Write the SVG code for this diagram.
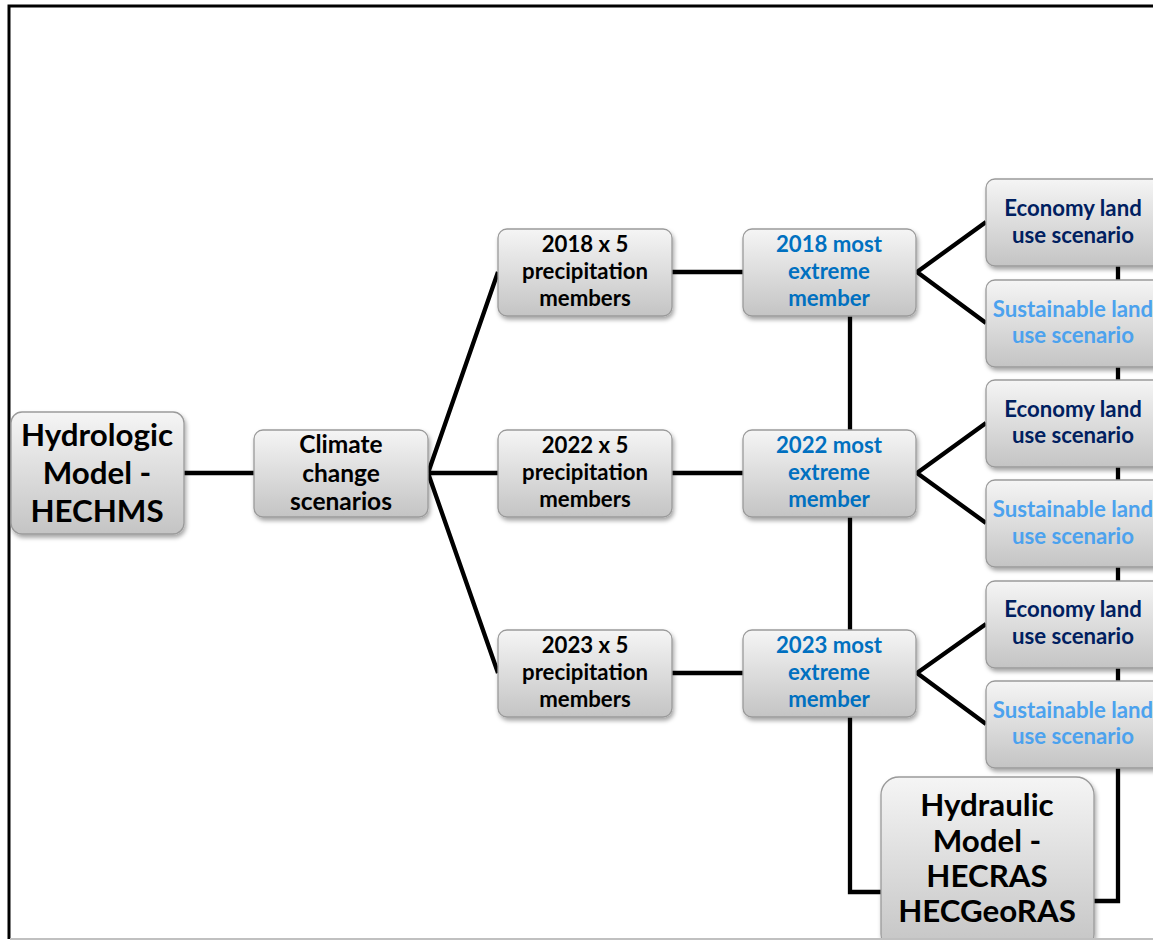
<svg xmlns="http://www.w3.org/2000/svg" width="1153" height="940" viewBox="0 0 1153 940">
<defs>
<linearGradient id="g" x1="0" y1="0" x2="0" y2="1">
<stop offset="0" stop-color="#f5f5f5"/>
<stop offset="1" stop-color="#c4c4c4"/>
</linearGradient>
<filter id="sh" x="-10%" y="-10%" width="130%" height="140%">
<feDropShadow dx="1.5" dy="3" stdDeviation="2" flood-color="#000" flood-opacity="0.35"/>
</filter>
</defs>
<style>
.box{fill:url(#g);stroke:#9a9a9a;stroke-width:1.3;filter:url(#sh)}
.t{font-family:Lato,"Noto Sans",sans-serif;font-weight:bold;text-anchor:middle}
.m{font-size:22.2px}
.L{font-size:31.3px}
.k{fill:#000}
.b{fill:#0070C0}
.n{fill:#002060}
.s{fill:#4CA2EE}
.c{stroke:#000;stroke-width:4.3;fill:none;stroke-linejoin:miter}
</style>
<rect width="1153" height="940" fill="#fff"/>
<g id="frame">
<path d="M9,939 V6 H1153" stroke="#000" stroke-width="3" fill="none"/>
</g>
<g id="connectors">
<path class="c" d="M184,473 H254"/>
<path class="c" d="M428,473 L498,272 M428,473 H498 M428,473 L498,673"/>
<path class="c" d="M672,272 H743 M672,473 H743 M672,673 H743"/>
<path class="c" d="M986,222 L917,272 L986,323"/>
<path class="c" d="M986,423 L917,473 L986,523"/>
<path class="c" d="M986,624 L917,673 L986,724"/>
<path class="c" d="M850,316 V892 H881"/>
<path class="c" d="M1118,266 V901 H1094"/>
</g>
<g id="hydrologic">
<rect class="box" x="11" y="412" width="173" height="122" rx="11"/>
<text class="t k L" x="97" y="446">Hydrologic</text>
<text class="t k L" x="97" y="484">Model -</text>
<text class="t k L" x="97" y="522">HECHMS</text>
</g>
<g id="climate">
<rect class="box" x="254" y="430" width="174" height="87" rx="9"/>
<text class="t k" font-size="24.5" x="341" y="453">Climate</text>
<text class="t k" font-size="24.5" x="341" y="482">change</text>
<text class="t k" font-size="24.5" x="341" y="510">scenarios</text>
</g>
<g id="p2018">
<rect class="box" x="498" y="229" width="174" height="87" rx="9"/>
<text class="t k m" x="585" y="252">2018 x 5</text>
<text class="t k m" x="585" y="279">precipitation</text>
<text class="t k m" x="585" y="306">members</text>
</g>
<g id="p2022">
<rect class="box" x="498" y="430" width="174" height="87" rx="9"/>
<text class="t k m" x="585" y="453">2022 x 5</text>
<text class="t k m" x="585" y="480">precipitation</text>
<text class="t k m" x="585" y="507">members</text>
</g>
<g id="p2023">
<rect class="box" x="498" y="630" width="174" height="87" rx="9"/>
<text class="t k m" x="585" y="653">2023 x 5</text>
<text class="t k m" x="585" y="680">precipitation</text>
<text class="t k m" x="585" y="707">members</text>
</g>
<g id="e2018">
<rect class="box" x="743" y="229" width="173" height="87" rx="9"/>
<text class="t b m" x="829" y="252">2018 most</text>
<text class="t b m" x="829" y="279">extreme</text>
<text class="t b m" x="829" y="306">member</text>
</g>
<g id="e2022">
<rect class="box" x="743" y="430" width="173" height="87" rx="9"/>
<text class="t b m" x="829" y="453">2022 most</text>
<text class="t b m" x="829" y="480">extreme</text>
<text class="t b m" x="829" y="507">member</text>
</g>
<g id="e2023">
<rect class="box" x="743" y="630" width="173" height="87" rx="9"/>
<text class="t b m" x="829" y="653">2023 most</text>
<text class="t b m" x="829" y="680">extreme</text>
<text class="t b m" x="829" y="707">member</text>
</g>
<g id="econ1">
<rect class="box" x="986" y="179" width="176" height="87" rx="9"/>
<text class="t n m" x="1073" y="216">Economy land</text>
<text class="t n m" x="1073" y="243">use scenario</text>
</g>
<g id="sust1">
<rect class="box" x="986" y="280" width="176" height="87" rx="9"/>
<text class="t s m" x="1073" y="317">Sustainable land</text>
<text class="t s m" x="1073" y="343">use scenario</text>
</g>
<g id="econ2">
<rect class="box" x="986" y="380" width="176" height="87" rx="9"/>
<text class="t n m" x="1073" y="417">Economy land</text>
<text class="t n m" x="1073" y="443">use scenario</text>
</g>
<g id="sust2">
<rect class="box" x="986" y="480" width="176" height="87" rx="9"/>
<text class="t s m" x="1073" y="517">Sustainable land</text>
<text class="t s m" x="1073" y="544">use scenario</text>
</g>
<g id="econ3">
<rect class="box" x="986" y="581" width="176" height="87" rx="9"/>
<text class="t n m" x="1073" y="617">Economy land</text>
<text class="t n m" x="1073" y="644">use scenario</text>
</g>
<g id="sust3">
<rect class="box" x="986" y="681" width="176" height="87" rx="9"/>
<text class="t s m" x="1073" y="718">Sustainable land</text>
<text class="t s m" x="1073" y="744">use scenario</text>
</g>
<g id="hydraulic">
<rect class="box" x="881" y="777" width="213" height="175" rx="18"/>
<text class="t k L" x="987" y="816">Hydraulic</text>
<text class="t k L" x="987" y="852">Model -</text>
<text class="t k L" x="987" y="887">HECRAS</text>
<text class="t k L" x="987" y="922">HECGeoRAS</text>
</g>
<path d="M10,939 H1153" stroke="#c0c0c0" stroke-width="2"/>
</svg>
